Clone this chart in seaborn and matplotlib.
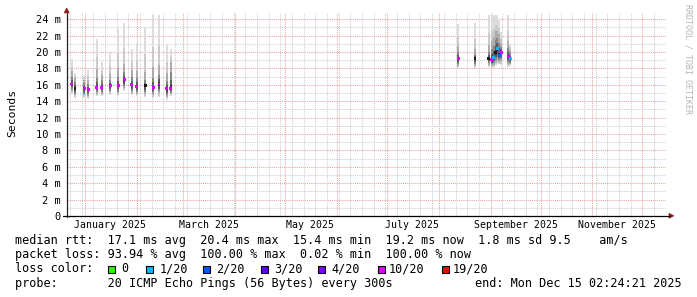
import matplotlib
matplotlib.use("Agg")
import matplotlib.pyplot as plt
import matplotlib.dates as mdates
import matplotlib.transforms as mtransforms
from matplotlib.lines import Line2D
from matplotlib.patches import Polygon, Rectangle
from matplotlib.ticker import MultipleLocator, NullFormatter
import numpy as np
import pandas as pd
import seaborn as sns

# ---------------- data ----------------
sample_times = [
    "2024-12-24 00:00", "2024-12-26 00:00", "2024-12-31 10:00", "2025-01-03 00:00",
    "2025-01-08 00:00", "2025-01-11 00:00", "2025-01-16 00:00", "2025-01-21 00:00",
    "2025-01-24 10:00", "2025-01-29 00:00", "2025-02-01 00:00", "2025-02-06 00:00",
    "2025-02-10 22:00", "2025-02-14 08:00", "2025-02-19 00:00", "2025-02-21 10:00",
    "2025-08-12 16:00", "2025-08-22 16:00", "2025-08-30 20:00", "2025-09-01 14:00",
    "2025-09-02 20:00", "2025-09-04 00:00", "2025-09-04 22:00", "2025-09-06 02:00",
    "2025-09-07 08:00", "2025-09-11 16:00", "2025-09-12 16:00",
]
rtt_low = [14.9, 14.4, 14.4, 14.3, 14.6, 14.6, 14.8, 14.6, 15.2, 14.7, 14.6, 14.5,
           14.4, 14.5, 14.2, 14.6,
           18.0, 18.0, 18.2, 18.0, 18.1, 18.3, 18.5, 18.5, 18.4, 18.2, 18.3]
rtt_high = [19.1, 17.5, 17.2, 17.8, 21.6, 18.8, 20.0, 22.8, 23.6, 20.4, 21.1, 23.1,
            24.5, 24.5, 20.9, 20.4,
            23.4, 23.6, 24.5, 24.5, 24.5, 24.5, 24.5, 24.0, 22.5, 24.5, 21.0]
rtt_median = [16.1, 15.6, 15.6, 15.4, 15.7, 15.7, 15.9, 15.9, 16.6, 16.0, 15.8, 15.9,
              15.7, 16.1, 15.5, 15.6,
              19.2, 19.2, 19.2, 19.1, 19.3, 19.9, 20.4, 19.6, 20.0, 19.4, 19.2]
smoke_core_top = [17.5, 16.8, 16.5, 16.5, 17.5, 17.0, 17.0, 17.5, 18.0, 17.5, 17.3, 17.0,
                  17.5, 17.8, 17.0, 18.6,
                  20.5, 20.0, 20.5, 21.0, 21.5, 22.4, 22.4, 22.0, 21.0, 21.0, 20.2]
loss_of_20 = ["10/20", "none", "10/20", "10/20", "10/20", "10/20", "10/20", "10/20",
              "10/20", "10/20", "10/20", "none", "10/20", "10/20", "10/20", "10/20",
              "10/20", "none", "none", "10/20", "1/20", "none", "1/20", "2/20",
              "10/20", "10/20", "1/20"]

loss_names = ["0", "1/20", "2/20", "3/20", "4/20", "10/20", "19/20"]
loss_colors = ["#26ff00", "#00b8ff", "#0059ff", "#5e00ff", "#7e00ff", "#dd00ff", "#ff0000"]

y_ticks = [0, 2, 4, 6, 8, 10, 12, 14, 16, 18, 20, 22, 24]
y_tick_labels = ["0", "2 m", "4 m", "6 m", "8 m", "10 m", "12 m", "14 m", "16 m",
                 "18 m", "20 m", "22 m", "24 m"]
month_labels = ["January 2025", "March 2025", "May 2025", "July 2025",
                "September 2025", "November 2025"]
month_label_dates = ["2025-01-16", "2025-03-16", "2025-05-16", "2025-07-16",
                     "2025-09-16", "2025-11-16"]

legend_rtt = "median rtt:  17.1 ms avg  20.4 ms max  15.4 ms min  19.2 ms now  1.8 ms sd 9.5    am/s"
legend_loss = "packet loss: 93.94 % avg  100.00 % max  0.02 % min  100.00 % now"
legend_probe = "probe:       20 ICMP Echo Pings (56 Bytes) every 300s"
legend_end = "end: Mon Dec 15 02:24:21 2025"
x_start = "2024-12-21 05:00"
x_end = "2025-12-15 02:24:21"

# ---------------- figure ----------------
W, H = 697, 297
sns.set_theme(style="white")
plt.rcParams["font.family"] = ["DejaVu Sans Mono", "DejaVu Sans"]
plt.rcParams["axes.facecolor"] = "white"
plt.rcParams["figure.facecolor"] = "white"

fig = plt.figure(figsize=(W / 100, H / 100), dpi=100)
ax_left, ax_right, ax_top, ax_bot = 67, 666, 12.7, 216
ax = fig.add_axes([ax_left / W, (H - ax_bot) / H, (ax_right - ax_left) / W, (ax_bot - ax_top) / H])

t = mdates.date2num(pd.to_datetime(sample_times))
lo = np.array(rtt_low)
hi = np.array(rtt_high)
md = np.array(rtt_median)
core = np.array(smoke_core_top)

# smoke layers: light outer range to dark inner range
layers = [
    (0.00, 1.00, None, "#dddddd"),
    (0.12, 0.45, None, "#cacaca"),
    (0.28, 0.10, None, "#acacac"),
    (0.45, None, 0.65, "#868686"),
    (0.65, None, 0.35, "#5c5c5c"),
    (0.85, None, 0.12, "#383838"),
]
bar_w = 1.2
for fb, fup, fcore, col in layers:
    bottoms = lo + fb * (md - lo)
    if fup is not None:
        tops = core + fup * (hi - core)
    else:
        tops = md + fcore * (core - md)
    ax.bar(t, tops - bottoms, bottom=bottoms, width=bar_w, color=col,
           linewidth=0, zorder=2)

palette = dict(zip(loss_names, loss_colors))
palette["none"] = "#1a1a1a"
df = pd.DataFrame({"t": t, "rtt": md, "loss": loss_of_20})
sns.scatterplot(data=df, x="t", y="rtt", hue="loss", palette=palette, marker="s",
                s=4.5, linewidth=0, legend=False, ax=ax, zorder=4)

ax.set_xlim(mdates.date2num(pd.Timestamp(x_start)), mdates.date2num(pd.Timestamp(x_end)))
ax.set_ylim(0, 24.8)
ax.set_xlabel("")
ax.set_ylabel("")

ax.xaxis.set_major_locator(mdates.MonthLocator())
ax.xaxis.set_minor_locator(mdates.WeekdayLocator(byweekday=mdates.MO))
ax.xaxis.set_major_formatter(NullFormatter())
ax.xaxis.set_minor_formatter(NullFormatter())
ax.set_yticks(y_ticks)
ax.set_yticklabels(y_tick_labels)
ax.yaxis.set_minor_locator(MultipleLocator(1))
ax.tick_params(axis="both", which="both", length=0)
ax.tick_params(axis="y", pad=4.4, labelsize=7.5, labelcolor="black")

red = "#eea3a3"
gray = "#cfcfcf"
ax.grid(True, which="minor", axis="both", color=gray, linestyle=(0, (1, 1)), linewidth=0.75)
ax.grid(True, which="major", axis="both", color=red, linestyle=(0, (1, 1)), linewidth=0.75)
ax.set_axisbelow(True)
for s in ax.spines.values():
    s.set_visible(False)

# x labels at mid-month
trans = mtransforms.blended_transform_factory(ax.transData, fig.transFigure)
for lab, d in zip(month_labels, month_label_dates):
    ax.text(mdates.date2num(pd.Timestamp(d)), 1 - 228.3 / H, lab, transform=trans,
            ha="center", va="baseline", fontsize=7.15, color="black", clip_on=False)

def fx(x):
    return x / W

def fy(y):
    return 1 - y / H

# axis lines with arrows
axis_col = "#222222"
arrow_col = "#8b1c1c"
fig.add_artist(Line2D([fx(66.7), fx(66.7)], [fy(216.5), fy(12.5)], color=axis_col, lw=0.9,
                      transform=fig.transFigure))
fig.add_artist(Line2D([fx(63.3), fx(670)], [fy(215.8), fy(215.8)], color="black", lw=0.9,
                      transform=fig.transFigure))
fig.add_artist(Polygon([(fx(64.2), fy(12.9)), (fx(69.2), fy(12.9)), (fx(66.7), fy(8.0))],
                       closed=True, facecolor=arrow_col, edgecolor=arrow_col, lw=0.5,
                       transform=fig.transFigure))
fig.add_artist(Polygon([(fx(669), fy(213.3)), (fx(669), fy(218.3)), (fx(673.8), fy(215.8))],
                       closed=True, facecolor=arrow_col, edgecolor=arrow_col, lw=0.5,
                       transform=fig.transFigure))

# axis title
fig.text(fx(12.5), fy(113), "Seconds", rotation=90, ha="center", va="center",
         fontsize=8.2, color="black")

# watermark
fig.text(fx(688), fy(4), "RRDTOOL / TOBI OETIKER", rotation=270, ha="center", va="top",
         fontsize=6.0, color="#b4b4b4")

# legend block
fs = 8.5
fig.text(fx(15), fy(244.3), legend_rtt, ha="left", va="baseline", fontsize=fs, color="black")
fig.text(fx(15), fy(258.4), legend_loss, ha="left", va="baseline", fontsize=fs, color="black")
fig.text(fx(15), fy(272.5), "loss color:", ha="left", va="baseline", fontsize=fs, color="black")
square_x = [108, 146, 203, 261, 318, 378, 442]
label_x = [121, 159.3, 216, 274, 331, 388.3, 452.7]
for sx, lx, name, col in zip(square_x, label_x, loss_names, loss_colors):
    fig.add_artist(Rectangle((fx(sx), fy(273.4)), 7.2 / W, 7.5 / H, facecolor=col,
                             edgecolor="black", lw=0.8, transform=fig.transFigure))
    fig.text(fx(lx), fy(272.5), name, ha="left", va="baseline", fontsize=fs, color="black")
fig.text(fx(15), fy(286.6), legend_probe, ha="left", va="baseline", fontsize=fs, color="black")
fig.text(fx(475), fy(286.6), legend_end, ha="left", va="baseline", fontsize=fs, color="black")

fig.savefig("out.png", dpi=100, facecolor="white")
